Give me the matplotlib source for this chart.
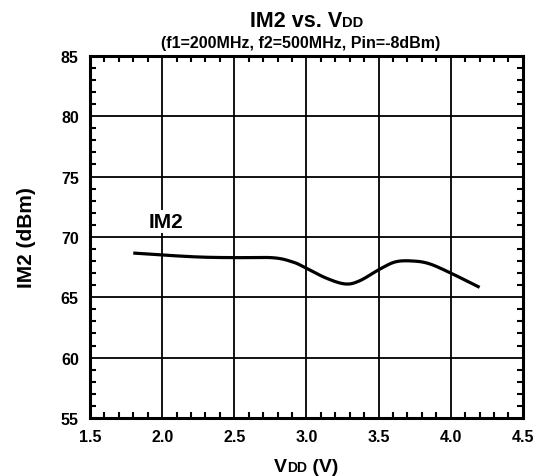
import numpy as np
import matplotlib
matplotlib.use("Agg")
import matplotlib.pyplot as plt
from matplotlib.ticker import MultipleLocator

plt.rcParams['font.family'] = ['Liberation Sans', 'DejaVu Sans']
plt.rcParams['font.weight'] = 'bold'

# IM2 vs supply voltage
vdd = [1.8, 2.0, 2.26, 2.5, 2.77, 2.91, 3.0, 3.14, 3.27, 3.37, 3.51, 3.62, 3.74, 3.85, 3.99, 4.2]
im2 = [68.66, 68.5, 68.33, 68.28, 68.27, 67.9, 67.4, 66.57, 66.1, 66.37, 67.34, 67.94, 68.0, 67.78, 67.06, 65.82]

xticks = [1.5, 2.0, 2.5, 3.0, 3.5, 4.0, 4.5]
yticks = [55, 60, 65, 70, 75, 80, 85]

fig = plt.figure(figsize=(5.43, 4.77), dpi=100)
ax = fig.add_axes([0.1657, 0.1216, 0.7973, 0.7594])

# Catmull-Rom smoothing through the read points
def catmull(p, tt):
    p = np.asarray(p, float)
    p = np.concatenate([[2 * p[0] - p[1]], p, [2 * p[-1] - p[-2]]])
    out = []
    for u in tt:
        i = min(int(u), len(p) - 4)
        s = u - i
        p0, p1, p2, p3 = p[i], p[i + 1], p[i + 2], p[i + 3]
        out.append(0.5 * ((2 * p1) + (-p0 + p2) * s + (2 * p0 - 5 * p1 + 4 * p2 - p3) * s ** 2
                          + (-p0 + 3 * p1 - 3 * p2 + p3) * s ** 3))
    return np.array(out)

tt = np.linspace(0, len(vdd) - 1, 300)
ax.plot(catmull(vdd, tt), catmull(im2, tt), color='black', lw=2.3, solid_capstyle='butt', zorder=3)

ax.set_xlim(1.5, 4.5)
ax.set_ylim(55, 85)
ax.set_xticks(xticks)
ax.set_yticks(yticks)
ax.set_xticklabels([f"{v:.1f}" for v in xticks])
ax.set_yticklabels([str(v) for v in yticks])
ax.xaxis.set_minor_locator(MultipleLocator(0.1))
ax.yaxis.set_minor_locator(MultipleLocator(1))
ax.tick_params(which='both', direction='in', top=True, right=True, labelsize=11.5)
ax.tick_params(which='major', length=0, pad=8)
ax.tick_params(which='minor', length=4, width=1.5)
ax.grid(True, which='major', color='black', lw=1.3)
for s in ax.spines.values():
    s.set_linewidth(2.2)

ax.text(2.03, 71.3, "IM2", fontsize=15, fontweight='bold', ha='center', va='center',
        bbox=dict(facecolor='white', edgecolor='none', pad=1.5), zorder=4)

ax.set_ylabel("IM2 (dBm)", fontsize=15, fontweight='bold', labelpad=18)

# texts with small-caps "DD"
fig.canvas.draw()
renderer = fig.canvas.get_renderer()

def seg_text(x_center, y_base, parts):
    objs = []
    for s, size in parts:
        objs.append(fig.text(0, y_base, s, fontsize=size, fontweight='bold', va='baseline', ha='left'))
    widths = [o.get_window_extent(renderer).width / fig.bbox.width for o in objs]
    x = x_center - sum(widths) / 2
    for o, w in zip(objs, widths):
        o.set_x(x)
        x += w

cx = 0.1657 + 0.7973 / 2
seg_text(cx, 1 - 27 / 477, [("IM2 vs. V", 15.5), ("DD", 10.5)])
fig.text(0.553, 1 - 48 / 477, "(f1=200MHz, f2=500MHz, Pin=-8dBm)", fontsize=11.5,
         fontweight='bold', ha='center', va='baseline')
seg_text(cx, 1 - 472 / 477, [("V", 14), ("DD", 10), (" (V)", 14)])

fig.savefig("out.png", dpi=100)
